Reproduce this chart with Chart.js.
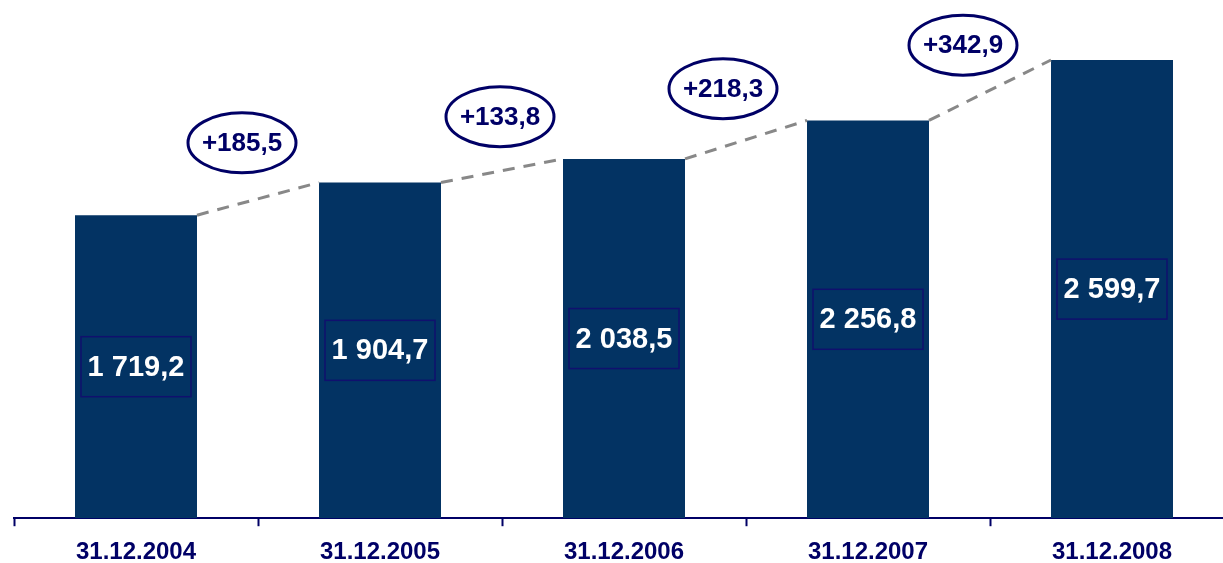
<!DOCTYPE html>
<html>
<head>
<meta charset="utf-8">
<script src="https://cdn.jsdelivr.net/npm/chart.js@4/dist/chart.umd.min.js"></script>
<style>
  html, body { margin: 0; padding: 0; background: #fff; overflow: hidden; }
  #wrap { width: 1240px; height: 580px; }
</style>
</head>
<body>
<div id="wrap"><canvas id="chart"></canvas></div>
<script>
// balances at year end
const dates = ["31.12.2004", "31.12.2005", "31.12.2006", "31.12.2007", "31.12.2008"];
const totals = [1719.2, 1904.7, 2038.5, 2256.8, 2599.7];
const growth = [185.5, 133.8, 218.3, 342.9];

const navy = "#000066";
const barColor = "#033363";
const family = "'Liberation Sans', Arial, sans-serif";

const fmt = (v) => {
  const [i, d] = v.toFixed(1).split(".");
  return i.replace(/\B(?=(\d{3})+(?!\d))/g, " ") + "," + d;
};

// value boxes in the middle of each bar
const boxLabels = {
  id: "boxLabels",
  afterDatasetsDraw(chart) {
    const ctx = chart.ctx;
    const bars = chart.getDatasetMeta(0).data;
    ctx.save();
    ctx.font = "bold 29px " + family;
    ctx.textAlign = "center";
    ctx.textBaseline = "middle";
    bars.forEach((bar, i) => {
      const cy = (bar.y + bar.base) / 2;
      const w = 110, h = 60;
      ctx.strokeStyle = "#10106e";
      ctx.lineWidth = 1.5;
      ctx.strokeRect(bar.x - w / 2, cy - h / 2, w, h);
      ctx.fillStyle = "#ffffff";
      ctx.fillText(fmt(totals[i]), bar.x, cy + 1);
    });
    ctx.restore();
  }
};

// dashed connectors between bar tops plus the growth ovals
const growthLinks = {
  id: "growthLinks",
  afterDatasetsDraw(chart, args, opts) {
    const ctx = chart.ctx;
    const bars = chart.getDatasetMeta(0).data;
    ctx.save();
    for (let i = 0; i < bars.length - 1; i++) {
      const a = bars[i], b = bars[i + 1];
      const x1 = a.x + a.width / 2, y1 = a.y;
      const x2 = b.x - b.width / 2, y2 = b.y;
      ctx.setLineDash([12, 9]);
      ctx.strokeStyle = "#888888";
      ctx.lineWidth = 3;
      ctx.beginPath();
      ctx.moveTo(x1, y1);
      ctx.lineTo(x2, y2);
      ctx.stroke();

      const nudge = opts.nudge[i];
      const cx = (x1 + x2) / 2 + nudge[0];
      const cy = (y1 + y2) / 2 + nudge[1];
      ctx.setLineDash([]);
      ctx.beginPath();
      ctx.ellipse(cx, cy, 54, 30, 0, 0, Math.PI * 2);
      ctx.fillStyle = "#ffffff";
      ctx.fill();
      ctx.lineWidth = 3;
      ctx.strokeStyle = navy;
      ctx.stroke();
      ctx.fillStyle = navy;
      ctx.font = "bold 26px " + family;
      ctx.textAlign = "center";
      ctx.textBaseline = "middle";
      ctx.fillText("+" + fmt(growth[i]), cx, cy + 1);
    }
    ctx.restore();
  }
};

new Chart(document.getElementById("chart"), {
  type: "bar",
  data: {
    labels: dates,
    datasets: [{
      data: totals,
      backgroundColor: barColor,
      barPercentage: 0.5,
      categoryPercentage: 1.0
    }]
  },
  options: {
    responsive: true,
    maintainAspectRatio: false,
    animation: false,
    layout: { padding: { left: 14, right: 6, top: 0, bottom: 1 } },
    plugins: {
      legend: { display: false },
      tooltip: { enabled: false },
      growthLinks: { nudge: [[-16, -56], [-2, -54], [-23, -51], [-27, -45]] }
    },
    scales: {
      x: {
        offset: true,
        border: { color: navy, width: 2 },
        grid: {
          offset: true,
          drawOnChartArea: false,
          drawTicks: true,
          tickLength: 8,
          tickWidth: 2,
          color: navy
        },
        ticks: {
          color: navy,
          padding: 12,
          font: { family: family, size: 24, weight: "bold" }
        }
      },
      y: { display: false, min: 0, max: 2940 }
    }
  },
  plugins: [growthLinks, boxLabels]
});
</script>
</body>
</html>
